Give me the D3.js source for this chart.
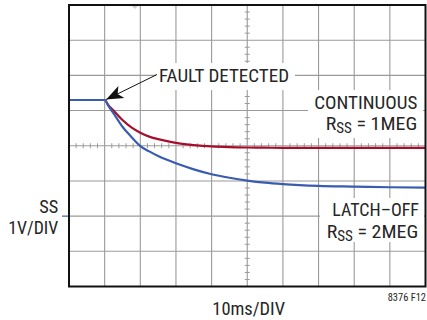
<!DOCTYPE html>
<html><head><meta charset="utf-8">
<script src="https://cdn.jsdelivr.net/npm/d3@7"></script>
<style>
html,body{margin:0;padding:0;background:#fff;}
svg{display:block;}
text{font-family:"Liberation Sans Narrow","Roboto Condensed","Liberation Sans",Arial,sans-serif;fill:#262626;}
</style></head>
<body><svg id="c" width="427" height="320"></svg>
<script>
// time in divisions (10 ms/DIV), SS voltage in divisions (1 V/DIV)
const timeDiv = [0, 1, 1.1, 1.25, 1.5, 1.75, 2, 2.25, 2.5, 2.75, 3, 3.5, 4, 4.5, 5, 5.5, 6, 7, 8, 9, 10];
const continuousRss1Meg = [5.30, 5.30, 5.16, 5.00, 4.73, 4.52, 4.37, 4.26, 4.19, 4.13, 4.08, 4.02, 3.98, 3.96, 3.95, 3.945, 3.94, 3.94, 3.94, 3.94, 3.94];
const latchOffRss2Meg  = [5.30, 5.30, 5.14, 4.92, 4.54, 4.25, 3.99, 3.84, 3.71, 3.60, 3.50, 3.33, 3.19, 3.09, 3.01, 2.95, 2.91, 2.86, 2.84, 2.82, 2.81];
const xDivTicks = [0,1,2,3,4,5,6,7,8,9,10];
const yDivTicks = [0,1,2,3,4,5,6,7,8];
const faultTime = 1;
const groundLevel = 2;

const svg = d3.select("#c");
const x = d3.scaleLinear().domain([0,10]).range([69, 425.5]);
const y = d3.scaleLinear().domain([0,8]).range([286.5, 5]);

// grid
const g = svg.append("g");
g.selectAll(".vx").data(xDivTicks.slice(1,-1)).join("line")
  .attr("x1",d=>x(d)).attr("x2",d=>x(d)).attr("y1",y(8)).attr("y2",y(0))
  .attr("stroke","#9a9a9a").attr("stroke-width",1.1);
g.selectAll(".hy").data(yDivTicks.slice(1,-1)).join("line")
  .attr("y1",d=>y(d)).attr("y2",d=>y(d)).attr("x1",x(0)).attr("x2",x(10))
  .attr("stroke","#9a9a9a").attr("stroke-width",1.1);
// minor ticks on center axes
const minorX = d3.range(0, 50).map(i=>i/5).filter(v=>v%1!==0);
const minorY = d3.range(0, 40).map(i=>i/5).filter(v=>v%1!==0);
g.selectAll(".mx").data(minorX).join("line")
  .attr("x1",d=>x(d)).attr("x2",d=>x(d)).attr("y1",y(4)-2.5).attr("y2",y(4)+2.5)
  .attr("stroke","#9a9a9a").attr("stroke-width",1);
g.selectAll(".my").data(minorY).join("line")
  .attr("y1",d=>y(d)).attr("y2",d=>y(d)).attr("x1",x(5)-2.5).attr("x2",x(5)+2.5)
  .attr("stroke","#9a9a9a").attr("stroke-width",1);

// trigger marker
svg.append("path").attr("d",`M${x(1.85)-3},${y(8)+1} L${x(1.85)+3},${y(8)+1} L${x(1.85)},${y(8)+4} Z`).attr("fill","#d0d0d0");

// white label boxes
svg.append("rect").attr("x",156).attr("y",63).attr("width",139).attr("height",27).attr("fill","#fff");
svg.append("rect").attr("x",308).attr("y",90).attr("width",115).attr("height",48).attr("fill","#fff");
svg.append("rect").attr("x",320).attr("y",198).attr("width",104).attr("height",44).attr("fill","#fff");

// traces
const line = d3.line().x((d,i)=>x(timeDiv[i])).y(d=>y(d)).curve(d3.curveMonotoneX);
svg.append("path").attr("d",line(continuousRss1Meg)).attr("fill","none")
  .attr("stroke","#a50f2d").attr("stroke-width",2.2);
svg.append("path").attr("d",line(latchOffRss2Meg)).attr("fill","none")
  .attr("stroke","#3a5cb0").attr("stroke-width",2.2);

// frame
svg.append("rect").attr("x",x(0)).attr("y",y(8)).attr("width",x(10)-x(0)).attr("height",y(0)-y(8))
  .attr("fill","none").attr("stroke","#111").attr("stroke-width",2);

// ground marker
svg.append("line").attr("x1",62).attr("x2",68).attr("y1",y(groundLevel)).attr("y2",y(groundLevel))
  .attr("stroke","#3a5cb0").attr("stroke-width",1.2);

// arrow
svg.append("defs").append("marker").attr("id","ah").attr("viewBox","0 0 10 10")
  .attr("refX",10).attr("refY",5).attr("markerWidth",17).attr("markerHeight",17)
  .attr("markerUnits","userSpaceOnUse").attr("orient","auto")
  .append("path").attr("d","M0,1 L10,5 L0,9 L2.5,5 Z").attr("fill","#111");
const ax = x(faultTime)+1.5, ay = y(5.30)-0.5;
svg.append("line").attr("x1",157).attr("y1",74.5).attr("x2",ax).attr("y2",ay)
  .attr("stroke","#111").attr("stroke-width",1).attr("marker-end","url(#ah)");

// texts
function txt(s, xx, yy, size, len, anchor){
  return svg.append("text").attr("x",xx).attr("y",yy).attr("font-size",size)
    .attr("text-anchor",anchor||"start").text(s)
    .attr("textLength",len).attr("lengthAdjust","spacingAndGlyphs");
}
txt("FAULT DETECTED",159,81.7,18.5,130);
txt("CONTINUOUS",314.3,109,18.5,103);
txt("LATCH\u2013OFF",332.3,216,18.5,86.7);
txt("SS",39.3,213.3,18.5,19);
txt("1V/DIV",8.3,234.3,18.5,50);
txt("10ms/DIV",212.3,315,18.5,72.7);
txt("8376 F12",387.7,301,10.5,38.3);

function rss(val, xx, yy){
  const t = svg.append("text").attr("x",xx).attr("y",yy).attr("font-size",18.5);
  t.append("tspan").text("R");
  t.append("tspan").attr("font-size",14).attr("dy",3).text("SS");
  t.append("tspan").attr("dy",-3).text(" = "+val);
  return t;
}
function fit(t, left, right){
  const bb = t.node().getBBox();
  const s = (right-left)/bb.width;
  t.attr("transform",`translate(${left},0) scale(${s},1) translate(${-bb.x},0)`);
}
fit(rss("1MEG",0,130),325.7,417.3);
fit(rss("2MEG",0,237.7),326.7,418.3);
</script></body></html>
